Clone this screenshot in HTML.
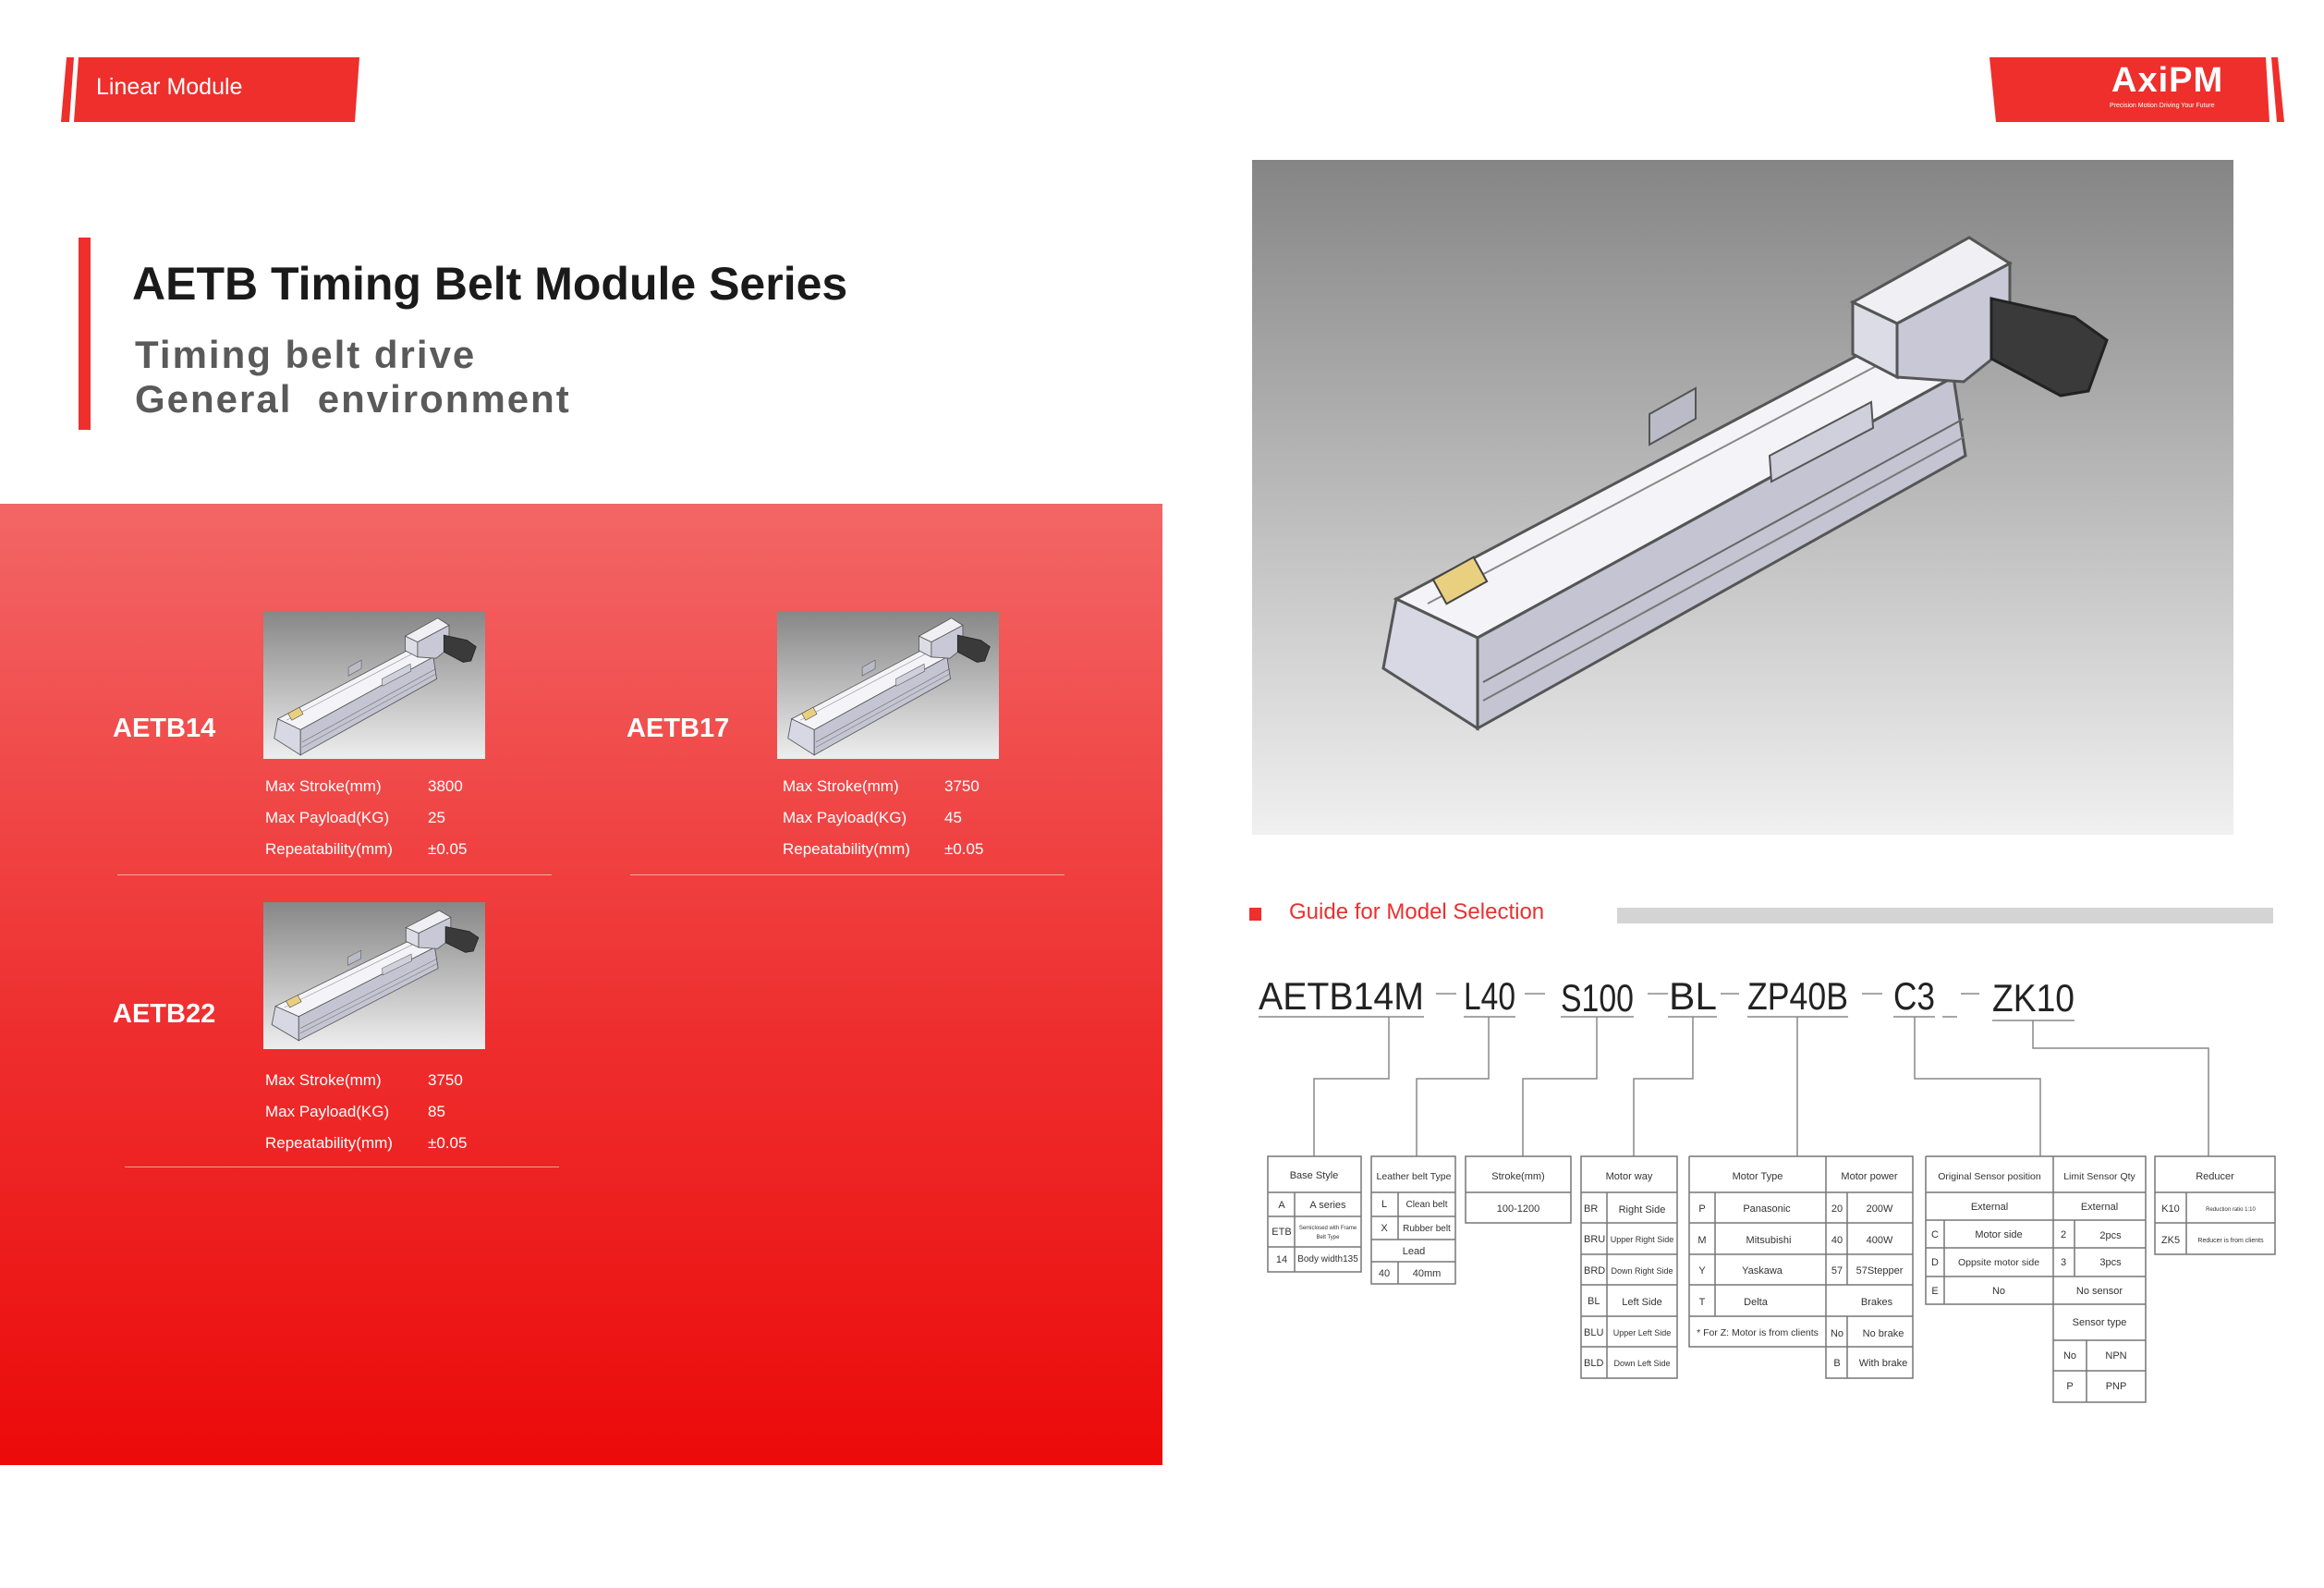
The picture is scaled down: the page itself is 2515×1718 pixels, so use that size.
<!DOCTYPE html>
<html><head><meta charset="utf-8"><style>
*{margin:0;padding:0;box-sizing:border-box}
body{width:2515px;height:1718px;background:#fff;position:relative;overflow:hidden;font-family:"Liberation Sans",sans-serif}
.a{position:absolute;white-space:nowrap}
.red{left:0;top:545px;width:1258px;height:1040px;background:linear-gradient(#f36666,#ee2e2e 55%,#ec0a0a)}
.lbl{color:#fff;font-weight:bold;font-size:29px}
.sp{color:#fff;font-size:17px}
.img{background:linear-gradient(#878787,#eeeeee)}
.div{height:1px;background:rgba(255,255,255,.55)}
</style></head><body>
<svg width="0" height="0" style="position:absolute"><defs>
<g id="mod">
<polygon points="156,475 677,200 759,235 244,517" fill="#f4f4f8" stroke="#555" stroke-width="3"/>
<polygon points="156,475 244,517 244,615 142,550" fill="#d8d8e4" stroke="#555" stroke-width="3"/>
<polygon points="244,517 759,235 772,320 244,615" fill="#c4c4d2" stroke="#555" stroke-width="3"/>
<line x1="250" y1="565" x2="770" y2="280" stroke="#666" stroke-width="2"/>
<line x1="250" y1="585" x2="770" y2="300" stroke="#777" stroke-width="2"/>
<line x1="190" y1="480" x2="700" y2="210" stroke="#888" stroke-width="2"/>
<polygon points="560,320 670,262 672,290 562,348" fill="#d0d0dc" stroke="#555" stroke-width="2"/>
<polygon points="430,275 480,247 480,280 430,308" fill="#bbbbc8" stroke="#555" stroke-width="2"/>
<polygon points="650,154 776,84 820,112 698,177" fill="#f0f0f4" stroke="#555" stroke-width="3"/>
<polygon points="650,154 698,177 698,235 650,210" fill="#dcdce6" stroke="#555" stroke-width="3"/>
<polygon points="698,177 820,112 820,200 770,240 698,235" fill="#c8c8d6" stroke="#555" stroke-width="3"/>
<polygon points="800,150 890,170 925,195 905,250 875,255 800,215" fill="#3a3a3a" stroke="#222" stroke-width="3"/>
<rect x="200" y="440" width="50" height="30" fill="#e8d080" stroke="#444" stroke-width="2" transform="rotate(-29 225 455)"/>
</g></defs></svg>

<!-- top tab -->
<svg class="a" style="left:66px;top:62px" width="330" height="72">
<polygon points="6,0 14,0 9,70 0,70" fill="#ee2f2c"/>
<polygon points="19,0 323,0 318,70 14,70" fill="#ee2f2c"/>
</svg>
<div class="a" style="left:104px;top:80px;color:#fff;font-size:25px">Linear Module</div>
<!-- logo -->
<svg class="a" style="left:2150px;top:62px" width="340" height="72">
<polygon points="3,0 302,0 306,70 10,70" fill="#ee2f2c"/>
<polygon points="308,0 315,0 322,70 314,70" fill="#ee2f2c"/>
</svg>
<div class="a" style="left:2285px;top:66px;color:#fff;font-size:38px;font-weight:bold;letter-spacing:1px">AxiPM</div>
<div class="a" style="left:2283px;top:111px;color:#fff;font-size:7px">Precision Motion Driving Your Future</div>

<!-- title -->
<div class="a" style="left:85px;top:257px;width:13px;height:208px;background:#ee2f2c"></div>
<div class="a" style="left:143px;top:278px;font-size:50px;font-weight:bold;color:#1a1a1a">AETB Timing Belt Module Series</div>
<div class="a" style="left:146px;top:360px;font-size:42px;font-weight:bold;color:#5a5a5a;letter-spacing:2px;line-height:48px">Timing belt drive<br>General&nbsp; environment</div>

<!-- red panel -->
<div class="a red"></div>
<div class="a lbl" style="left:122px;top:772px">AETB14</div>
<div class="a lbl" style="left:678px;top:772px">AETB17</div>
<div class="a lbl" style="left:122px;top:1081px">AETB22</div>
<svg class="a img" style="left:285px;top:662px" width="240" height="159" viewBox="100 60 860 570" preserveAspectRatio="none"><use href="#mod"/></svg>
<svg class="a img" style="left:841px;top:662px" width="240" height="159" viewBox="100 60 860 570" preserveAspectRatio="none"><use href="#mod"/></svg>
<svg class="a img" style="left:285px;top:976px" width="240" height="159" viewBox="110 50 840 600" preserveAspectRatio="none"><use href="#mod"/></svg>

<div class="a sp" style="left:287px;top:834px;line-height:34px">Max Stroke(mm)<br>Max Payload(KG)<br>Repeatability(mm)</div>
<div class="a sp" style="left:463px;top:834px;line-height:34px">3800<br>25<br>±0.05</div>
<div class="a sp" style="left:847px;top:834px;line-height:34px">Max Stroke(mm)<br>Max Payload(KG)<br>Repeatability(mm)</div>
<div class="a sp" style="left:1022px;top:834px;line-height:34px">3750<br>45<br>±0.05</div>
<div class="a sp" style="left:287px;top:1152px;line-height:34px">Max Stroke(mm)<br>Max Payload(KG)<br>Repeatability(mm)</div>
<div class="a sp" style="left:463px;top:1152px;line-height:34px">3750<br>85<br>±0.05</div>
<div class="a div" style="left:127px;top:946px;width:470px"></div>
<div class="a div" style="left:682px;top:946px;width:470px"></div>
<div class="a div" style="left:135px;top:1262px;width:470px"></div>

<!-- big image -->
<svg class="a" style="left:1355px;top:173px" width="1062" height="730" viewBox="0 0 1062 730">
<defs><linearGradient id="g" x1="0" y1="0" x2="0" y2="1"><stop offset="0" stop-color="#858585"/><stop offset="1" stop-color="#f0f0f0"/></linearGradient></defs>
<rect width="1062" height="730" fill="url(#g)"/><use href="#mod"/></svg>

<!-- guide -->
<div class="a" style="left:1352px;top:982px;width:13px;height:14px;background:#ee2f2c"></div>
<div class="a" style="left:1395px;top:973px;font-size:24px;color:#e8312f">Guide for Model Selection</div>
<div class="a" style="left:1750px;top:982px;width:710px;height:17px;background:#d4d4d4"></div>

<svg class="a" style="left:0;top:0" width="2515" height="1718" font-family="Liberation Sans, sans-serif">
<g font-size="42" fill="#222">
<text x="1362" y="1092" textLength="179" lengthAdjust="spacingAndGlyphs">AETB14M</text>
<text x="1584" y="1092" textLength="56" lengthAdjust="spacingAndGlyphs">L40</text>
<text x="1689" y="1094" textLength="79" lengthAdjust="spacingAndGlyphs">S100</text>
<text x="1806" y="1092" textLength="52" lengthAdjust="spacingAndGlyphs">BL</text>
<text x="1891" y="1092" textLength="109" lengthAdjust="spacingAndGlyphs">ZP40B</text>
<text x="2049" y="1092" textLength="45" lengthAdjust="spacingAndGlyphs">C3</text>
<text x="2156" y="1094" textLength="89" lengthAdjust="spacingAndGlyphs">ZK10</text>
</g>
<g stroke="#888" stroke-width="1.5" fill="none">
<path d="M1554 1075h22M1650 1075h22M1783 1075h22M1862 1075h20M2015 1075h22M2122 1075h20"/>
<path d="M1362 1100h179M1584 1100h56M1689 1100h79M1805 1100h53M1891 1100h109M2049 1100h45M2102 1100h16M2156 1104h89"/>
<path d="M1503 1100V1167H1422V1251M1611 1100V1167H1533V1251M1728 1100V1167H1648V1251M1832 1100V1167H1768V1251M1945 1100V1251M2072 1100V1167H2208V1251M2200 1104V1134H2390V1251"/>
</g>
<g stroke="#777" stroke-width="1.5" fill="none">
<rect x="1372" y="1251" width="101" height="125"/><path d="M1372 1290h101M1372 1316h101M1372 1349h101M1401 1290v86"/>
<rect x="1484" y="1251" width="91" height="138"/><path d="M1484 1290h91M1484 1316h91M1484 1341h91M1484 1365h91M1513 1290v51M1513 1365v24"/>
<rect x="1586" y="1251" width="114" height="72"/><path d="M1586 1290h114"/>
<rect x="1711" y="1251" width="104" height="240"/><path d="M1711 1290h104M1711 1323h104M1711 1357h104M1711 1390h104M1711 1424h104M1711 1457h104M1739 1290v201"/>
<path d="M1828 1251h242v240h-94v-240M1828 1251v206h148M1828 1290h242M1828 1323h242M1828 1357h242M1828 1390h242M1828 1424h242M1976 1457h94M1856 1290v134M1999 1290v100M1999 1424v67"/>
<path d="M2084 1251h238v266h-100v-266M2084 1251v160h138M2084 1290h238M2084 1320h238M2084 1350h238M2084 1381h238M2222 1411h100M2222 1450h100M2222 1483h100M2104 1320v91M2245 1320v61M2258 1450v67"/>
<rect x="2332" y="1251" width="130" height="106"/><path d="M2332 1290h130M2332 1323h130M2366 1290v67"/>
</g>
<g font-size="11" fill="#333" text-anchor="middle">
<text x="1422" y="1275">Base Style</text>
<text x="1387" y="1307">A</text><text x="1437" y="1307">A series</text>
<text x="1387" y="1336">ETB</text><text x="1437" y="1330" font-size="6">Semiclosed with Frame</text><text x="1437" y="1340" font-size="6">Belt Type</text>
<text x="1387" y="1366">14</text><text x="1437" y="1365" font-size="10">Body width135</text>
<text x="1530" y="1276" font-size="10.5">Leather belt Type</text>
<text x="1498" y="1306">L</text><text x="1544" y="1306" font-size="10">Clean belt</text>
<text x="1498" y="1332">X</text><text x="1544" y="1332" font-size="10">Rubber belt</text>
<text x="1530" y="1357">Lead</text>
<text x="1498" y="1381">40</text><text x="1544" y="1381">40mm</text>
<text x="1643" y="1276">Stroke(mm)</text><text x="1643" y="1311">100-1200</text>
<text x="1763" y="1276">Motor way</text>
<g text-anchor="start"><text x="1714" y="1311">BR</text><text x="1714" y="1344">BRU</text><text x="1714" y="1378">BRD</text><text x="1718" y="1411">BL</text><text x="1714" y="1445">BLU</text><text x="1714" y="1478">BLD</text></g>
<text x="1777" y="1312">Right Side</text><text x="1777" y="1344" font-size="9">Upper Right Side</text><text x="1777" y="1378" font-size="9">Down Right Side</text><text x="1777" y="1412">Left Side</text><text x="1777" y="1445" font-size="9">Upper Left Side</text><text x="1777" y="1478" font-size="9">Down Left Side</text>
<text x="1902" y="1276">Motor Type</text><text x="2023" y="1276">Motor power</text>
<text x="1842" y="1311">P</text><text x="1842" y="1345">M</text><text x="1842" y="1378">Y</text><text x="1842" y="1412">T</text>
<text x="1912" y="1311">Panasonic</text><text x="1914" y="1345">Mitsubishi</text><text x="1907" y="1378">Yaskawa</text><text x="1900" y="1412">Delta</text>
<text x="1902" y="1445" font-size="10.5">* For Z: Motor is from clients</text>
<text x="1988" y="1311">20</text><text x="1988" y="1345">40</text><text x="1988" y="1378">57</text><text x="2031" y="1412">Brakes</text><text x="1988" y="1446">No</text><text x="1988" y="1478">B</text>
<text x="2034" y="1311">200W</text><text x="2034" y="1345">400W</text><text x="2034" y="1378">57Stepper</text><text x="2038" y="1446">No brake</text><text x="2038" y="1478">With brake</text>
<text x="2153" y="1276" font-size="10.5">Original Sensor position</text><text x="2272" y="1276" font-size="10.5">Limit Sensor Qty</text>
<text x="2153" y="1309">External</text><text x="2272" y="1309">External</text>
<text x="2094" y="1339">C</text><text x="2094" y="1369">D</text><text x="2094" y="1400">E</text>
<text x="2163" y="1339">Motor side</text><text x="2163" y="1369" font-size="10.5">Oppsite motor side</text><text x="2163" y="1400">No</text>
<text x="2233" y="1339">2</text><text x="2233" y="1369">3</text><text x="2284" y="1340">2pcs</text><text x="2284" y="1369">3pcs</text><text x="2272" y="1400">No sensor</text>
<text x="2272" y="1434">Sensor type</text>
<text x="2240" y="1470">No</text><text x="2290" y="1470">NPN</text><text x="2240" y="1503">P</text><text x="2290" y="1503">PNP</text>
<text x="2397" y="1276">Reducer</text>
<text x="2349" y="1311">K10</text><text x="2414" y="1310" font-size="6">Reduction ratio 1:10</text>
<text x="2349" y="1345">ZK5</text><text x="2414" y="1344" font-size="7">Reducer is from clients</text>
</g>
</svg>
</body></html>
